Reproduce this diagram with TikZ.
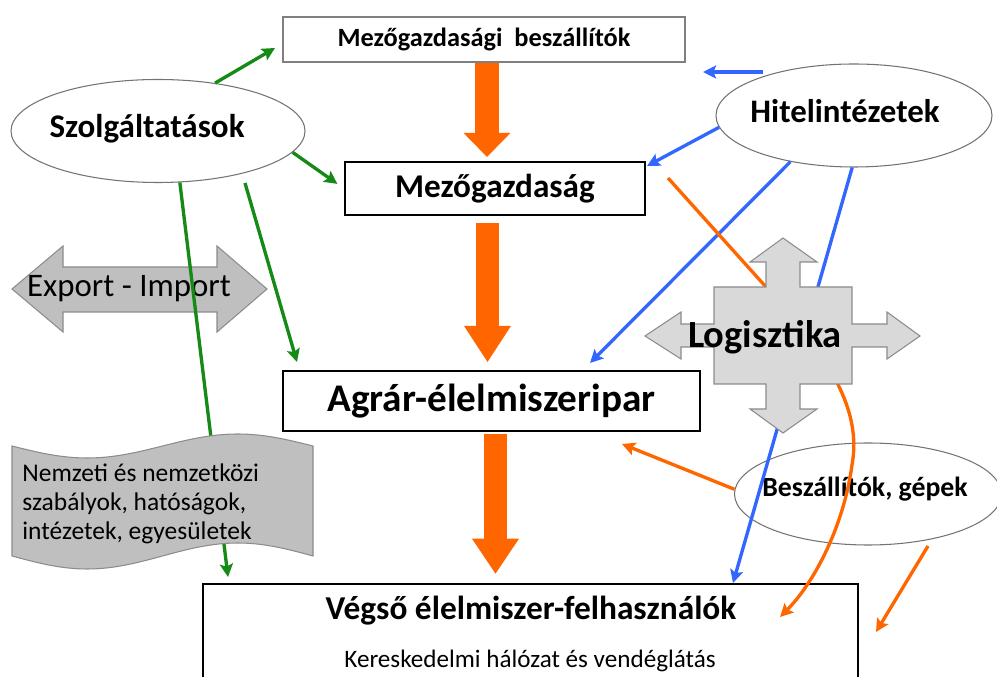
\documentclass[tikz,border=0pt]{standalone}
\usepackage{fontspec}
\setmainfont{Carlito}
\usetikzlibrary{arrows.meta,shapes.geometric}

\definecolor{narancs}{RGB}{255,102,0}
\definecolor{zold}{RGB}{22,138,22}
\definecolor{kek}{RGB}{51,102,255}
\definecolor{szurke}{RGB}{191,191,191}
\definecolor{vszurke}{RGB}{217,217,217}

\newcommand{\betu}[1]{\fontsize{#1}{#1}\selectfont}

\begin{document}
\begin{tikzpicture}[x=0.2mm,y=-0.2mm,
	doboz/.style={draw,line width=1.2pt,fill=white,inner sep=0pt,font=\bfseries},
	ovalis/.style={ellipse,draw=black!55,line width=0.6pt,inner sep=0pt},
	vonal/.style={line width=1.9pt,-{Stealth[length=2.6mm,width=2.6mm,inset=0.5mm]}},
	vastag/.style={narancs,line width=4.7mm,-{Triangle[length=#1,width=9.4mm,line width=0pt]}},
	alak/.style={draw=black!45,line width=0.6pt}]
	\useasboundingbox (0,0) rectangle (997,677);

	\node[doboz,draw=black!50,line width=0.8pt,minimum width=80.4mm,minimum height=9mm,font=\bfseries\betu{15}] (mgbesz) at (484,39.5) {Mezőgazdasági\ \ beszállítók};
	\node[doboz,minimum width=60mm,minimum height=10.6mm,font=\bfseries\betu{18.9}] (mezo) at (495,188.5) {Mezőgazdaság};
	\node[doboz,minimum width=83.4mm,minimum height=12mm,font=\bfseries\betu{22.3}] (agrar) at (491.5,401) {Agrár-élelmiszeripar};
	\node[doboz,line width=1.5pt,minimum width=131mm,minimum height=23.2mm] (vegso) at (530.5,642) {};
	\node[font=\bfseries\betu{19},anchor=base] (vegsoT) at (531,620) {Végső élelmiszer-felhasználók};
	\node[font=\betu{14.3},anchor=base] (keresk) at (530,668) {Kereskedelmi hálózat és vendéglátás};

	\node[ovalis,fill=white,minimum width=58.8mm,minimum height=20.6mm] (szolg) at (158,131) {};
	\node[font=\bfseries\betu{18.8},anchor=base] (szolgT) at (147,138) {Szolgáltatások};
	\node[ovalis,fill=white,minimum width=55.2mm,minimum height=20.6mm] (hitel) at (854,115.5) {};
	\node[font=\bfseries\betu{18.7},anchor=base] (hitelT) at (845,123) {Hitelintézetek};
	\node[ovalis,minimum width=53.4mm,minimum height=20.4mm] (beszall) at (868,494) {};
	\node[font=\bfseries\betu{15.8},anchor=base] (beszallT) at (865,497) {Beszállítók, gépek};

	\draw[alak,fill=szurke] (12,289) -- (63,246) -- (63,267) -- (217,267) -- (217,246) -- (267,289)
		-- (217,332) -- (217,312) -- (63,312) -- (63,332) -- cycle;
	\node[font=\betu{18.7},anchor=base] (expimp) at (129,297) {Export - Import};

	\draw[vastag=4.8mm,shorten >=0.8mm] (mgbesz.south -| 487,0) -- (mezo.north -| 487,0);
	\draw[vastag=7.2mm,shorten <=1.4mm,shorten >=1.6mm] (mezo.south -| 487.5,0) -- (agrar.north -| 487.5,0);
	\draw[vastag=7mm,shorten <=0.4mm,shorten >=1.8mm] (agrar.south -| 495.5,0) -- (vegso.north -| 495.5,0);

	\coordinate (g1) at (275,48);
	\coordinate (g3a) at (245,183);
	\coordinate (g3b) at (297,362);
	\coordinate (g4) at (228,577);
	\coordinate (b1a) at (763,72);
	\coordinate (b1b) at (703,72);
	\coordinate (b2) at (647,166);
	\coordinate (b3) at (590,363);
	\coordinate (b4) at (733,583);
	\coordinate (o1a) at (668,178);
	\coordinate (o1b) at (780,617);
	\coordinate (o2) at (622,444);
	\coordinate (o3a) at (928,546);
	\coordinate (o3b) at (876,632);

	\draw[vonal,zold] (szolg.-67) -- (g4);
	\draw[vonal,kek] (hitel.216) -- (b3);
	\draw[vonal,kek] (hitel.268) -- (b4);
	\draw[vonal,narancs] (o1a) -- (766,287) .. controls (830,358) and (862,410) .. (852,465)
		.. controls (843,530) and (812,585) .. (o1b);

	\draw[alak,fill=szurke] (12,446) sin (87.25,458) cos (162.5,446) sin (237.75,434) cos (313,446)
		-- (313,556) sin (237.75,543) cos (162.5,556) sin (87.25,569) cos (12,556) -- cycle;
	\node[font=\fontsize{14.5}{16.7}\selectfont,align=left,anchor=north west,inner sep=0pt] (szabaly) at (22,463)
		{Nemzeti és nemzetközi\\szabályok, hatóságok,\\intézetek, egyesületek};

	\draw[alak,fill=vszurke] (783,238) -- (817,262) -- (800,262) -- (800,287) -- (852,287) -- (852,324)
		-- (887,324) -- (887,312) -- (920,336) -- (887,359) -- (887,347) -- (852,347) -- (852,384)
		-- (800,384) -- (800,409) -- (817,409) -- (783,433) -- (750,409) -- (766,409) -- (766,384)
		-- (714,384) -- (714,347) -- (681,347) -- (681,359) -- (645,336) -- (681,312) -- (681,324)
		-- (714,324) -- (714,287) -- (766,287) -- (766,262) -- (750,262) -- cycle;
	\node[font=\bfseries\betu{21.9},anchor=base] (logT) at (765,348) {Logisztika};

	\draw[vonal,zold] (szolg.40) -- (g1);
	\draw[vonal,zold,shorten >=1.6mm] (szolg.-9) -- (mezo.west);
	\draw[vonal,zold] (g3a) -- (g3b);
	\draw[vonal,kek] (b1a) -- (b1b);
	\draw[vonal,kek] (hitel.185) -- (b2);
	\draw[vonal,narancs] (beszall.178) -- (o2);
	\draw[vonal,narancs] (o3a) -- (o3b);
\end{tikzpicture}
\end{document}
